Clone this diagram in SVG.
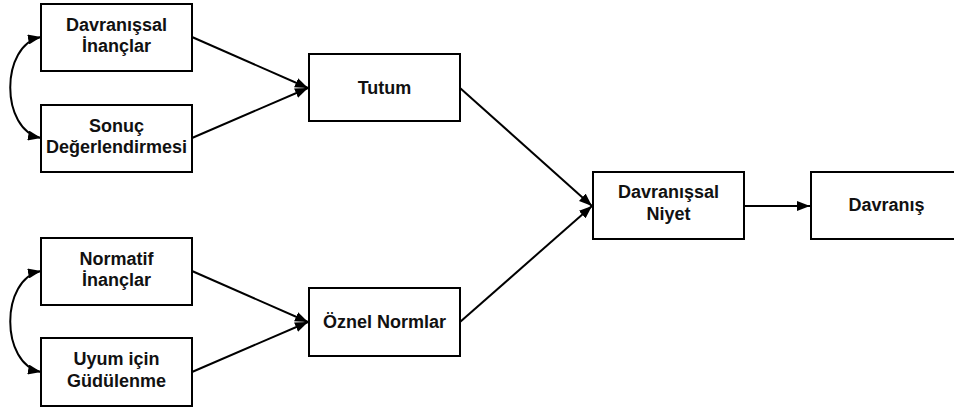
<svg xmlns="http://www.w3.org/2000/svg" width="954" height="412" viewBox="0 0 954 412">
<defs>
<marker id="ah" viewBox="0 0 13 10" refX="13" refY="5" markerWidth="13" markerHeight="10" markerUnits="userSpaceOnUse" orient="auto-start-reverse">
<path d="M0,0 L13,5 L0,10 z" fill="#000"/>
</marker>
<style>
rect{fill:#fff;stroke:#000;stroke-width:2}
text{font-family:"Liberation Sans",Arial,sans-serif;font-weight:bold;font-size:18px;text-anchor:middle;fill:#111}
.c path,.c line{fill:none;stroke:#000;stroke-width:2}
</style>
</defs>
<rect width="954" height="412" fill="#fff" style="stroke:none"/>
<g class="c" id="connectors">
<line x1="192" y1="37" x2="308" y2="88" marker-end="url(#ah)"/>
<line x1="192" y1="138" x2="308" y2="88" marker-end="url(#ah)"/>
<line x1="192" y1="271" x2="308" y2="322" marker-end="url(#ah)"/>
<line x1="192" y1="372" x2="308" y2="322" marker-end="url(#ah)"/>
<line x1="460" y1="88" x2="592" y2="206" marker-end="url(#ah)"/>
<line x1="460" y1="322" x2="592" y2="206" marker-end="url(#ah)"/>
<line x1="744" y1="206" x2="810" y2="206" marker-end="url(#ah)"/>
<path d="M41,37 C0,45 0,130 41,138" marker-start="url(#ah)" marker-end="url(#ah)"/>
<path d="M41,271 C0,279 0,364 41,372" marker-start="url(#ah)" marker-end="url(#ah)"/>
</g>
<g id="davranissal-inanclar">
<rect x="41" y="4" width="151" height="67"/>
<text x="116.5" y="30.5">Davranışsal</text>
<text x="116.5" y="52">İnançlar</text>
</g>
<g id="sonuc-degerlendirmesi">
<rect x="41" y="105" width="151" height="67"/>
<text x="116.5" y="131.5">Sonuç</text>
<text x="116.5" y="153">Değerlendirmesi</text>
</g>
<g id="normatif-inanclar">
<rect x="41" y="238" width="151" height="67"/>
<text x="116.5" y="264.5">Normatif</text>
<text x="116.5" y="286">İnançlar</text>
</g>
<g id="uyum-icin-gudulenme">
<rect x="41" y="338" width="151" height="68"/>
<text x="116.5" y="365">Uyum için</text>
<text x="116.5" y="386.5">Güdülenme</text>
</g>
<g id="tutum">
<rect x="309" y="54" width="151" height="67"/>
<text x="384.5" y="93.5">Tutum</text>
</g>
<g id="oznel-normlar">
<rect x="309" y="288" width="151" height="68"/>
<text x="384.5" y="328">Öznel Normlar</text>
</g>
<g id="davranissal-niyet">
<rect x="593" y="172" width="151" height="67"/>
<text x="668.5" y="197.5">Davranışsal</text>
<text x="668.5" y="220">Niyet</text>
</g>
<g id="davranis">
<rect x="811" y="172" width="151" height="67"/>
<text x="886.5" y="210.5">Davranış</text>
</g>
</svg>
